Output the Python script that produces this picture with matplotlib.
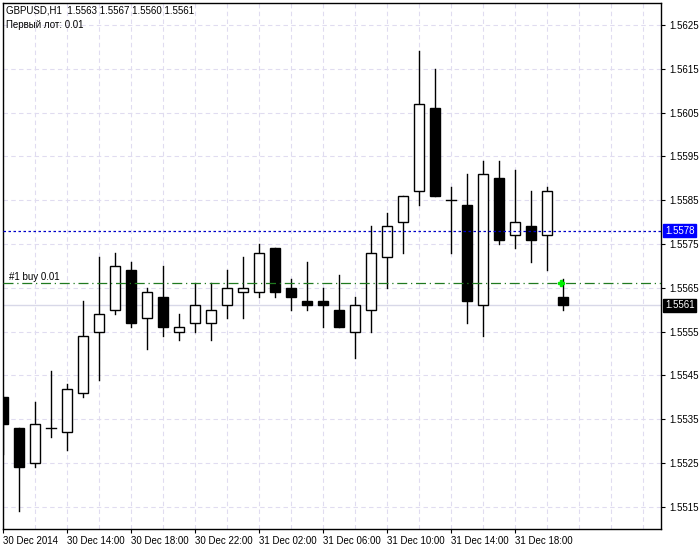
import matplotlib
matplotlib.use("Agg")
import matplotlib.pyplot as plt
from matplotlib.patches import Rectangle
plt.rcParams['font.family'] = ['Liberation Sans', 'DejaVu Sans']

opens  = [1.5540,1.5533,1.5525,1.5533,1.5532,1.5541,1.5555,1.5560,1.5569,1.5558,1.5563,1.5555,1.5557,1.5557,1.5561,1.5564,1.5564,1.5574,1.5565,1.5562,1.5562,1.5560,1.5555,1.5560,1.5572,1.5580,1.5587,1.5606,1.5585,1.5584,1.5561,1.5590,1.5577,1.5579,1.5577,1.5563]
highs  = [1.5540,1.5533,1.5539,1.5546,1.5543,1.5562,1.5572,1.5573,1.5571,1.5565,1.5570,1.5559,1.5566,1.5566,1.5569,1.5572,1.5575,1.5574,1.5567,1.5571,1.5565,1.5568,1.5563,1.5579,1.5582,1.5586,1.5619,1.5615,1.5588,1.5591,1.5594,1.5594,1.5592,1.5587,1.5588,1.5567]
lows   = [1.5527,1.5514,1.5524,1.5531,1.5528,1.5540,1.5544,1.5559,1.5556,1.5551,1.5554,1.5553,1.5555,1.5553,1.5558,1.5558,1.5563,1.5563,1.5560,1.5560,1.5556,1.5556,1.5549,1.5555,1.5565,1.5573,1.5584,1.5586,1.5573,1.5557,1.5554,1.5575,1.5574,1.5571,1.5569,1.5560]
closes = [1.5534,1.5524,1.5534,1.5533,1.5542,1.5554,1.5559,1.5570,1.5557,1.5564,1.5556,1.5556,1.5561,1.5560,1.5565,1.5565,1.5573,1.5564,1.5563,1.5561,1.5561,1.5556,1.5561,1.5573,1.5579,1.5586,1.5607,1.5586,1.5585,1.5562,1.5591,1.5576,1.5580,1.5576,1.5587,1.5561]
time_tick_idx = [0,4,8,12,16,20,24,28,32]
time_labels = ["30 Dec 2014","30 Dec 14:00","30 Dec 18:00","30 Dec 22:00","31 Dec 02:00",
               "31 Dec 06:00","31 Dec 10:00","31 Dec 14:00","31 Dec 18:00"]
price_ticks = [1.5515,1.5525,1.5535,1.5545,1.5555,1.5565,1.5575,1.5585,1.5595,1.5605,1.5615,1.5625]
ask_line = 1.5578
bid_line = 1.5561
buy_price = 1.5566
buy_idx = 34.85

W, H = 700, 550
fig = plt.figure(figsize=(7, 5.5), dpi=100)
ax = fig.add_axes([3/W, 1-529/H, 658/W, 526/H])
ax.set_xlim(0, 658/16)
ax.set_ylim(1.5625-504/438000*10, 1.5625+22/438000*10)

for i in range(0, 42, 2):
    ax.axvline(i, color="#e0dcf0", lw=0.8, ls=(0, (4, 3)), zorder=0)
for p in price_ticks:
    ax.axhline(p, color="#e0dcf0", lw=0.8, ls=(0, (4, 3)), zorder=0)

bw = 0.66
for i, (o, h, l, c) in enumerate(zip(opens, highs, lows, closes)):
    ax.plot([i, i], [l, h], color="black", lw=1.0, zorder=2)
    bot, top = min(o, c), max(o, c)
    if top - bot < 0.00002:
        ax.plot([i-bw/2, i+bw/2], [o, o], color="black", lw=1.0, zorder=3)
    else:
        ax.add_patch(Rectangle((i-bw/2, bot), bw, top-bot,
                               facecolor="black" if c < o else "white",
                               edgecolor="black", lw=1.0, zorder=3))

ax.axhline(ask_line, color="#0000c8", lw=0.9, ls=(0, (2, 2)), zorder=4)
ax.axhline(bid_line, color="#d8d8e8", lw=1.0, zorder=1)
ax.axhline(buy_price, color="#207a20", lw=0.9, ls=(0, (8, 3, 1, 3)), zorder=4)
ax.plot([buy_idx], [buy_price], marker="P", color="#00ee00", ms=5, zorder=5)
ax.text(0.4, buy_price+0.00004, "#1 buy 0.01", fontsize=7, va="bottom", ha="left")

ax.text(0.004, 0.995, "GBPUSD,H1  1.5563 1.5567 1.5560 1.5561", transform=ax.transAxes,
        fontsize=7, va="top", ha="left")
ax.text(0.004, 0.968, "Первый лот: 0.01", transform=ax.transAxes,
        fontsize=7, va="top", ha="left")

ax.yaxis.tick_right()
ax.set_yticks(price_ticks)
ax.set_yticklabels([f"{p:.4f}" for p in price_ticks], fontsize=7)
ax.tick_params(axis="y", length=3, pad=3)
ax.set_xticks(time_tick_idx)
ax.set_xticklabels(time_labels, fontsize=7, ha="left")
ax.tick_params(axis="x", length=3, pad=2)

for val, bg in [(ask_line, "#0000ff"), (bid_line, "black")]:
    ax.text(1.006, val, f"{val:.4f}", transform=ax.get_yaxis_transform(), fontsize=7,
            color="white", va="center", ha="left",
            bbox=dict(boxstyle="square,pad=0.15", fc=bg, ec=bg))

for s in ax.spines.values():
    s.set_color("black")
    s.set_linewidth(1)

fig.savefig("out.png", dpi=100, facecolor="white")
